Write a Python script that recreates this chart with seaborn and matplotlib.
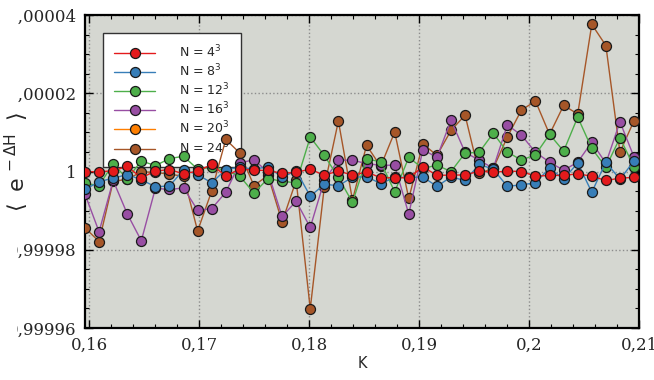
import matplotlib
matplotlib.use("Agg")
import matplotlib.pyplot as plt
from matplotlib.transforms import Bbox
from matplotlib.ticker import MultipleLocator
from matplotlib.lines import Line2D
import seaborn as sns
import pandas as pd

# Coupling values K
K = [0.15960, 0.16088, 0.16216, 0.16344, 0.16472, 0.16600, 0.16728, 0.16856,
     0.16984, 0.17112, 0.17240, 0.17368, 0.17496, 0.17624, 0.17752, 0.17880,
     0.18008, 0.18136, 0.18264, 0.18392, 0.18520, 0.18648, 0.18776, 0.18904,
     0.19032, 0.19160, 0.19288, 0.19416, 0.19544, 0.19672, 0.19800, 0.19928,
     0.20056, 0.20184, 0.20312, 0.20440, 0.20568, 0.20696, 0.20824, 0.20952]

# <exp(-dH)> for each lattice size
n4 = [1.0000000, 0.9999999, 1.0000002, 1.0000013, 0.9999984, 1.0000001, 1.0000005, 0.9999994,
      1.0000001, 1.0000018, 0.9999988, 1.0000007, 1.0000003, 1.0000003, 0.9999995, 0.9999998,
      1.0000006, 0.9999990, 1.0000002, 0.9999990, 0.9999999, 0.9999984, 0.9999984, 0.9999984,
      1.0000012, 0.9999990, 0.9999991, 0.9999991, 1.0000001, 0.9999998, 1.0000001, 1.0000000,
      0.9999988, 0.9999990, 0.9999990, 0.9999994, 0.9999988, 0.9999977, 0.9999983, 0.9999985]
n8 = [0.9999954, 0.9999974, 0.9999983, 0.9999992, 0.9999979, 0.9999961, 0.9999963, 1.0000004,
      0.9999992, 0.9999971, 1.0000005, 1.0000011, 1.0000006, 1.0000012, 0.9999985, 1.0000002,
      0.9999937, 0.9999967, 0.9999964, 0.9999985, 0.9999987, 0.9999969, 0.9999985, 0.9999985,
      0.9999986, 0.9999962, 0.9999986, 0.9999977, 1.0000018, 1.0000006, 0.9999962, 0.9999966,
      0.9999971, 1.0000009, 0.9999980, 1.0000022, 0.9999947, 1.0000024, 0.9999980, 1.0000027]
n12 = [0.9999970, 0.9999964, 1.0000020, 0.9999981, 1.0000027, 1.0000015, 1.0000033, 1.0000039,
       1.0000006, 1.0000011, 1.0000003, 0.9999988, 0.9999945, 0.9999982, 0.9999975, 0.9999971,
       1.0000088, 1.0000041, 0.9999985, 0.9999921, 1.0000032, 1.0000025, 0.9999948, 1.0000036,
       1.0000008, 1.0000016, 1.0000000, 1.0000047, 1.0000049, 1.0000098, 1.0000050, 1.0000029,
       1.0000043, 1.0000095, 1.0000052, 1.0000139, 1.0000059, 1.0000011, 1.0000086, 1.0000012]
n16 = [0.9999942, 0.9999846, 0.9999977, 0.9999892, 0.9999823, 0.9999957, 0.9999954, 0.9999958,
       0.9999901, 0.9999905, 0.9999947, 1.0000022, 1.0000030, 0.9999998, 0.9999885, 0.9999924,
       0.9999857, 0.9999977, 1.0000029, 1.0000029, 1.0000020, 1.0000016, 1.0000016, 0.9999891,
       1.0000056, 1.0000036, 1.0000131, 1.0000049, 1.0000029, 1.0000008, 1.0000119, 1.0000093,
       1.0000049, 1.0000024, 1.0000003, 1.0000024, 1.0000075, 1.0000021, 1.0000127, 1.0000037]
n20 = []
n24 = [0.9999856, 0.9999821, 0.9999975, 0.9999980, 0.9999999, 0.9999998, 0.9999993, 0.9999988,
       0.9999848, 0.9999950, 1.0000082, 1.0000047, 0.9999964, 0.9999990, 0.9999871, 0.9999977,
       0.9999649, 0.9999961, 1.0000129, 0.9999927, 1.0000067, 1.0000013, 1.0000101, 0.9999931,
       1.0000071, 1.0000041, 1.0000105, 1.0000144, 0.9999995, 1.0000008, 1.0000088, 1.0000157,
       1.0000180, 1.0000095, 1.0000169, 1.0000147, 1.0000376, 1.0000322, 1.0000049, 1.0000130]

labels = [r"N = 4$^3$", r"N = 8$^3$", r"N = 12$^3$", r"N = 16$^3$", r"N = 20$^3$", r"N = 24$^3$"]
series = [n4, n8, n12, n16, n20, n24]
colors = ["#e41a1c", "#377eb8", "#4daf4a", "#984ea3", "#ff7f00", "#a65628"]

xticks = [0.16, 0.17, 0.18, 0.19, 0.20, 0.21]
xticklabels = ["0,16", "0,17", "0,18", "0,19", "0,2", "0,21"]
yticks = [0.99996, 0.99998, 1.0, 1.00002, 1.00004]
yticklabels = ["0,99996", "0,99998", "1", "1,00002", "1,00004"]

sns.set_theme(style="ticks")
plt.rcParams["font.family"] = ["DejaVu Sans"]
plt.rcParams["mathtext.fontset"] = "dejavusans"

fig = plt.figure(figsize=(6.54, 3.80), dpi=100)
ax = fig.add_axes([85 / 654, 1 - 328 / 380, (639.3 - 85) / 654, (328 - 15) / 380])
ax.set_facecolor("#d5d7d1")

marker_kw = dict(marker="o", markersize=7.2, markeredgecolor="#1a1a1a",
                 markeredgewidth=0.9, linewidth=1.0)

# larger lattices go underneath, N = 4^3 ends on top
for lab, vals, col in reversed(list(zip(labels, series, colors))):
    if len(vals) == 0:
        continue
    df = pd.DataFrame({"K": K, "v": vals})
    sns.lineplot(data=df, x="K", y="v", ax=ax, color=col, sort=False,
                 estimator=None, legend=False, zorder=3, **marker_kw)

ax.set_xlim(0.1596, 0.21)
ax.set_ylim(0.99996, 1.00004)
ax.set_xticks(xticks, xticklabels)
ax.set_yticks(yticks, yticklabels)
ax.xaxis.set_minor_locator(MultipleLocator(0.002))
ax.yaxis.set_minor_locator(MultipleLocator(0.000005))
ax.tick_params(which="both", direction="in", top=True, right=True, color="black")
ax.tick_params(which="major", length=5.5, width=1.0, pad=6, labelsize=12)
ax.tick_params(which="minor", length=3, width=0.8)
for lbl in ax.get_xticklabels() + ax.get_yticklabels():
    lbl.set_fontfamily("DejaVu Serif")
for s in ax.spines.values():
    s.set_linewidth(1.6)
    s.set_color("black")
ax.grid(True, which="major", linestyle=":", color="#8c8c8c", linewidth=1.0)
ax.set_axisbelow(True)

ax.set_xlabel("K", fontsize=10.5, labelpad=2)
ax.set_ylabel(r"$\langle\;\;\mathrm{e}^{\,-\Delta\mathrm{H}}\;\;\rangle$", fontsize=16)
ax.yaxis.set_label_coords(-0.097, 0.53)

handles = [Line2D([], [], color=c, **marker_kw) for c in colors]
leg = ax.legend(handles, labels, loc="upper left",
                bbox_to_anchor=(0.032, 0.944), borderaxespad=0, fontsize=9,
                frameon=True, fancybox=False, framealpha=1, edgecolor="#333333",
                handlelength=3.3, handletextpad=1.9, labelspacing=0.2, borderpad=0.9,
                numpoints=1)
leg.get_frame().set_linewidth(1.0)
leg.set_zorder(2.5)

fig.canvas.draw()
clip = Bbox([[16.5, 0], [654, 380]])
for lbl in ax.get_yticklabels():
    lbl.set_clip_box(clip)
    lbl.set_clip_on(True)

fig.savefig("out.png", dpi=100)
